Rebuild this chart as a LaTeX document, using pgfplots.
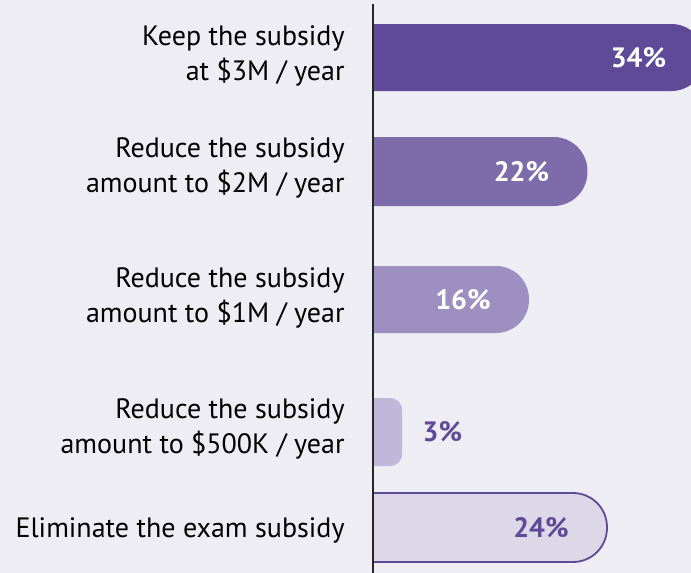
\documentclass[border=0pt]{standalone}
\usepackage{pgfplots}
\pgfplotsset{compat=1.18}
\usepackage{fontspec}
\setmainfont{PT Sans}
\definecolor{bg}{HTML}{EEEDF4}
\definecolor{c1}{HTML}{5E4A96}
\definecolor{c2}{HTML}{7D6BAA}
\definecolor{c3}{HTML}{9D90C0}
\definecolor{c4}{HTML}{BFB8D8}
\definecolor{c5}{HTML}{DDD8E8}
\begin{document}
\begin{tikzpicture}[x=1pt,y=1pt]
\fill[bg] (-186.5,0) rectangle (159,286.5);
\begin{axis}[
  at={(0,0)}, anchor=south west,
  scale only axis, width=170.625pt, height=286.5pt,
  xmin=0, xmax=35, ymin=0, ymax=573, y dir=reverse,
  axis line style={draw=none}, xtick=\empty,
  ytick={56.2,167.5,298,428.5,530},
  yticklabels={{Keep the subsidy\\at \$3M / year},
               {Reduce the subsidy\\amount to \$2M / year},
               {Reduce the subsidy\\amount to \$1M / year},
               {Reduce the subsidy\\amount to \$500K / year},
               {Eliminate the exam subsidy}},
  yticklabel style={align=right, font=\fontsize{14}{17.5}\selectfont, inner sep=0pt, xshift=-14pt, text=black},
  major tick length=0pt,
  clip=true,
]
% bars: value and bar edges (in reference pixel rows)
\addplot[fill=c1, draw=none, rounded corners=16.5pt] coordinates {(-6,24) (34,24) (34,91) (-6,91) (-6,24)};
\addplot[fill=c2, draw=none, rounded corners=17pt] coordinates {(-6,137) (22,137) (22,206) (-6,206) (-6,137)};
\addplot[fill=c3, draw=none, rounded corners=16.5pt] coordinates {(-6,266) (16,266) (16,333) (-6,333) (-6,266)};
\addplot[fill=c4, draw=none, rounded corners=6pt] coordinates {(-6,398) (3,398) (3,466) (-6,466) (-6,398)};
\addplot[fill=c5, draw=c1, line width=0.9pt, rounded corners=17pt] coordinates {(-6,493) (24,493) (24,562) (-6,562) (-6,493)};
% value labels
\addplot[draw=none, mark=none, nodes near coords, point meta=explicit symbolic,
  nodes near coords style={anchor=east, xshift=-19pt, text=white, inner sep=0pt, font=\bfseries\fontsize{14}{14}\selectfont}]
  coordinates {(34,57.5) [34\%] (22,171.5) [22\%] (16,299.5) [16\%]};
\addplot[draw=none, mark=none, nodes near coords, point meta=explicit symbolic,
  nodes near coords style={anchor=east, xshift=-19pt, text=c1, inner sep=0pt, font=\bfseries\fontsize{14}{14}\selectfont}]
  coordinates {(24,527.5) [24\%]};
\addplot[draw=none, mark=none, nodes near coords, point meta=explicit symbolic,
  nodes near coords style={anchor=west, xshift=10pt, text=c1, inner sep=0pt, font=\bfseries\fontsize{14}{14}\selectfont}]
  coordinates {(3,432) [3\%]};
\end{axis}
\draw[line width=0.8pt, color=black!85] (0,284.5) -- (0,0);
\pgfresetboundingbox
\useasboundingbox (-186.5,0) rectangle (159,286.5);
\end{tikzpicture}
\end{document}
